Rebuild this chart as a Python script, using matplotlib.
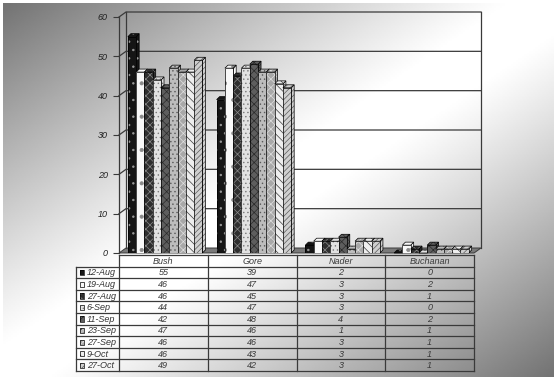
import matplotlib
matplotlib.use("Agg")
import matplotlib.pyplot as plt
import numpy as np
from matplotlib.patches import Polygon, Rectangle

candidates = ["Bush", "Gore", "Nader", "Buchanan"]
dates = ["12-Aug", "19-Aug", "27-Aug", "6-Sep", "11-Sep", "23-Sep", "27-Sep", "9-Oct", "27-Oct"]
bush = [55, 46, 46, 44, 42, 47, 46, 46, 49]
gore = [39, 47, 45, 47, 48, 46, 46, 43, 42]
nader = [2, 3, 3, 3, 4, 1, 3, 3, 3]
buchanan = [0, 2, 1, 0, 2, 1, 1, 1, 1]
yticks = [0, 10, 20, 30, 40, 50, 60]

# face colour, hatch, hatch colour per poll date
styles = [
    ("#151515", "..", "#9a9a9a"),
    ("#f8f8f8", ".", "#8a8a8a"),
    ("#2e2e2e", "xxxx", "#8a8a8a"),
    ("#e2e2e2", "....", "#7a7a7a"),
    ("#5e5e5e", "xxxx", "#2a2a2a"),
    ("#bdbdbd", "....", "#5a5a5a"),
    ("#a8a8a8", "xxxx", "#e0e0e0"),
    ("#eeeeee", "\\\\\\\\", "#3a3a3a"),
    ("#cfcfcf", "//////", "#5a5a5a"),
]

plt.rcParams["font.family"] = "Liberation Sans"
plt.rcParams["hatch.linewidth"] = 0.5

W, H = 557, 380
fig = plt.figure(figsize=(W / 100, H / 100), dpi=100)
fig.patch.set_facecolor("white")

# background gradient
bg = fig.add_axes([3 / W, 3 / H, (W - 6) / W, (H - 6) / H])
xx, yy = np.meshgrid(np.linspace(0, 1, 300), np.linspace(0, 1, 200))
u = xx + yy
d = np.clip(np.abs(1 - u) - 0.08, 0, None) / 0.92
shade = 1 - 0.55 * d ** 1.1
bg.imshow(shade, cmap="gray", vmin=0, vmax=1, aspect="auto", extent=[0, 1, 1, 0])
bg.axis("off")

# main chart axes
ax_l, ax_r, ax_b, ax_t = 119, 474, 253, 17
ax = fig.add_axes([ax_l / W, (H - ax_b) / H, (ax_r - ax_l) / W, (ax_b - ax_t) / H])
ax.set_xlim(-0.5, 3.5)
ax.set_ylim(0, 60)
ax.patch.set_alpha(0)
ux = (ax_r - ax_l) / 4.0
uy = (ax_b - ax_t) / 60.0

wdx, wdy = 7 / ux, 5 / uy      # wall depth
bdx, bdy = 3 / ux, 3 / uy      # bar depth
line_c = "#3a3a3a"

# floor
ax.add_patch(Polygon([(-0.5, 0), (3.5, 0), (3.5 + wdx, wdy), (-0.5 + wdx, wdy)],
                     closed=True, fc="#7a7a7a", ec=line_c, lw=0.7, clip_on=False, zorder=1))
# walls and gridlines
for v in yticks[1:]:
    ax.plot([-0.5, -0.5 + wdx, 3.5 + wdx], [v, v + wdy, v + wdy], color=line_c, lw=0.9,
            clip_on=False, zorder=1)
ax.plot([-0.5 + wdx, -0.5 + wdx], [wdy, 60 + wdy], color=line_c, lw=0.9, clip_on=False, zorder=1)
ax.plot([3.5 + wdx, 3.5 + wdx], [wdy, 60 + wdy], color=line_c, lw=0.9, clip_on=False, zorder=1)

series = np.array([bush, gore, nader, buchanan]).T
nb = len(dates)
bw = 0.84 / nb
x = np.arange(len(candidates))
for i in range(nb):
    fc, hatch, hc = styles[i]
    xs = x + (i - (nb - 1) / 2) * bw - bw / 2 + 0.02
    for j, h in enumerate(series[i]):
        x0, x1 = xs[j], xs[j] + bw
        z = 2 + i * 0.1
        side_pts = [(x1, 0), (x1, h), (x1 + bdx, h + bdy), (x1 + bdx, bdy)]
        top_pts = [(x0, h), (x1, h), (x1 + bdx, h + bdy), (x0 + bdx, h + bdy)]
        for pts in (side_pts, top_pts):
            p = Polygon(pts, closed=True, fc=fc, hatch=hatch, zorder=z, clip_on=False)
            p.set_edgecolor(hc)
            p.set_linewidth(0)
            ax.add_patch(p)
            ax.add_patch(Polygon(pts, closed=True, fill=False, ec="black", lw=0.5,
                                 zorder=z, clip_on=False))
        ax.bar(x0, h, width=bw, align="edge", color=fc, hatch=hatch, edgecolor=hc,
               linewidth=0, zorder=z)
        ax.bar(x0, h, width=bw, align="edge", fill=False, edgecolor="black",
               linewidth=0.5, zorder=z)

for s in ["top", "right", "bottom"]:
    ax.spines[s].set_visible(False)
ax.spines["left"].set_color(line_c)
ax.spines["left"].set_linewidth(0.9)
ax.set_xticks([])
ax.set_yticks(yticks)
ax.tick_params(axis="y", length=4, width=0.8, color=line_c, pad=4,
               labelsize=6.5, labelcolor="#222222")
for lab in ax.get_yticklabels():
    lab.set_fontstyle("italic")

# data table
tb_l, tb_t, tb_b = 76, 255, 371
tab = fig.add_axes([tb_l / W, (H - tb_b) / H, (ax_r - tb_l) / W, (tb_b - tb_t) / H])
lab_w = (ax_l - tb_l) / ux
tab.set_xlim(-0.5 - lab_w, 3.5)
nrow = nb + 1
tab.set_ylim(nrow, 0)
tab.axis("off")
tab.patch.set_alpha(0)
lk = dict(color=line_c, lw=0.9, clip_on=False)
tab.plot([-0.5, 3.5], [0, 0], **lk)
for r in range(1, nrow + 1):
    tab.plot([-0.5 - lab_w, 3.5], [r, r], **lk)
tab.plot([-0.5 - lab_w, -0.5 - lab_w], [1, nrow], **lk)
for c in range(len(candidates) + 1):
    tab.plot([c - 0.5, c - 0.5], [0, nrow], **lk)
tk = dict(fontsize=6.5, fontstyle="italic", color="#3a3a3a", ha="center", va="center")
for j, name in enumerate(candidates):
    tab.text(j, 0.55, name, **tk)
for i, d in enumerate(dates):
    fc, hatch, hc = styles[i]
    kx = -0.5 - lab_w + 0.05
    tab.add_patch(Rectangle((kx, i + 1.3), 0.045, 0.45, fc=fc, hatch=hatch, ec=hc, lw=0,
                            clip_on=False))
    tab.add_patch(Rectangle((kx, i + 1.3), 0.045, 0.45, fill=False, ec="black", lw=0.5,
                            clip_on=False))
    tab.text(kx + 0.07, i + 1.55, d, fontsize=6.5, fontstyle="italic", color="#333333",
             ha="left", va="center")
    for j in range(len(candidates)):
        tab.text(j, i + 1.55, str(series[i][j]), **tk)

fig.savefig("out.png", dpi=100)
